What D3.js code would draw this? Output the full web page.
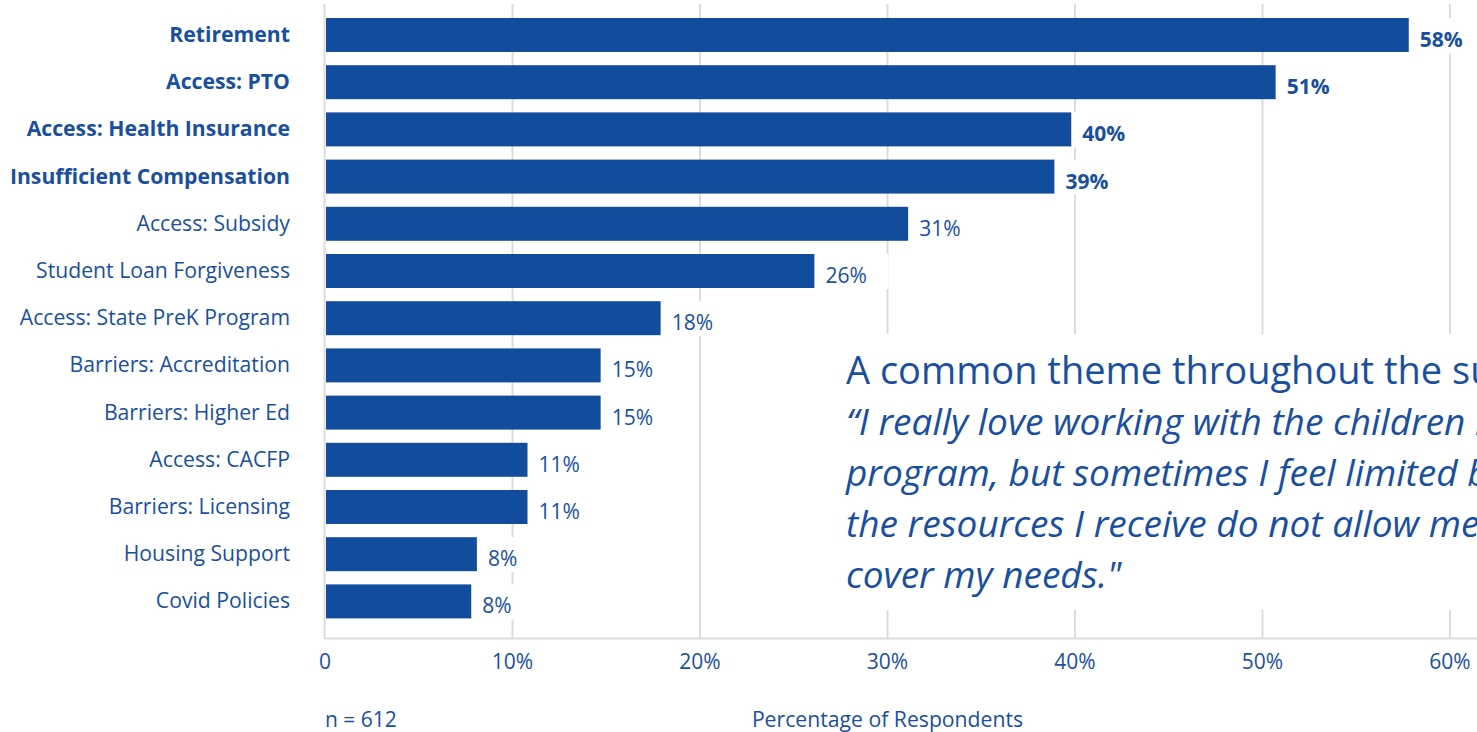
<!DOCTYPE html>
<html>
<head>
<meta charset="utf-8">
<script src="https://cdn.jsdelivr.net/npm/d3@7"></script>
<style>
  body { margin: 0; background: #fff; }
  text { font-family: "Open Sans", sans-serif; fill: #1a4f9e; }
</style>
</head>
<body>
<script>
// categories, top to bottom
categories = ["Retirement", "Access: PTO", "Access: Health Insurance", "Insufficient Compensation",
  "Access: Subsidy", "Student Loan Forgiveness", "Access: State PreK Program", "Barriers: Accreditation",
  "Barriers: Higher Ed", "Access: CACFP", "Barriers: Licensing", "Housing Support", "Covid Policies"];
values = [57.8, 50.7, 39.8, 38.9, 31.1, 26.1, 17.9, 14.7, 14.7, 10.8, 10.8, 8.1, 7.8]; // percent
boldCount = 4; // first four rows are highlighted
ticks = [0, 10, 20, 30, 40, 50, 60];
tickLabels = ["0", "10%", "20%", "30%", "40%", "50%", "60%"];
quoteHead = "A common theme throughout the survey:";
quoteLines = ["\u201CI really love working with the children in my",
  "program, but sometimes I feel limited because",
  "the resources I receive do not allow me to",
  "cover my needs.\""];

Width = 1477;
Height = 732;
var blue = "#124c9c", grid = "#dcdcdc";

var svg = d3.select("body").append("svg")
  .attr("width", Width)
  .attr("height", Height);

var x = d3.scaleLinear().domain([0, 60]).range([325, 1450]);
var y = d3.scaleBand().domain(categories).range([11.4, 625]).paddingInner(0.28).paddingOuter(0.14);

// vertical gridlines
svg.selectAll(".grid").data(ticks.slice(1)).enter().append("line")
  .attr("x1", d => x(d)).attr("x2", d => x(d))
  .attr("y1", 4).attr("y2", 638)
  .attr("stroke", grid).attr("stroke-width", 2);

// baseline and left axis
svg.append("line").attr("x1", 324).attr("x2", Width).attr("y1", 638.5).attr("y2", 638.5)
  .attr("stroke", grid).attr("stroke-width", 2);
svg.append("line").attr("x1", x(0) - 0.5).attr("x2", x(0) - 0.5).attr("y1", 4).attr("y2", 639)
  .attr("stroke", grid).attr("stroke-width", 2);

// bars
svg.selectAll(".bar").data(values).enter().append("rect")
  .attr("x", x(0) + 1)
  .attr("y", (d, i) => y(categories[i]))
  .attr("width", d => x(d) - x(0) - 1)
  .attr("height", y.bandwidth())
  .attr("fill", blue);

// value labels with white backing
var vl = svg.selectAll(".vl").data(values).enter().append("g");
vl.append("rect")
  .attr("x", d => x(d) + 2)
  .attr("y", (d, i) => y(categories[i]) + y.bandwidth() / 2 - 17)
  .attr("width", 72).attr("height", 35)
  .attr("fill", "#fff");
vl.append("text")
  .attr("x", d => x(d) + 11)
  .attr("y", (d, i) => y(categories[i]) + y.bandwidth() / 2 + 12)
  .style("font-size", "21px")
  .style("font-weight", (d, i) => i < boldCount ? "700" : "400")
  .text(d => Math.round(d) + "%");

// category labels
svg.selectAll(".cat").data(categories).enter().append("text")
  .attr("x", 290)
  .attr("y", d => y(d) + y.bandwidth() / 2 + 7)
  .attr("text-anchor", "end")
  .style("font-size", "21.2px")
  .style("font-weight", (d, i) => i < boldCount ? "700" : "400")
  .text(d => d);

// tick labels
svg.selectAll(".tick").data(ticks).enter().append("text")
  .attr("x", d => x(d))
  .attr("y", 669)
  .attr("text-anchor", "middle")
  .style("font-size", "21px")
  .text((d, i) => tickLabels[i]);

svg.append("text").attr("x", 325).attr("y", 727).style("font-size", "21px").text("n = 612");
svg.append("text").attr("x", x(30)).attr("y", 727).attr("text-anchor", "middle")
  .style("font-size", "21.2px").text("Percentage of Respondents");

// quote box
svg.append("rect").attr("x", 810).attr("y", 334).attr("width", Width - 810).attr("height", 276)
  .attr("fill", "#fff");
svg.append("text").attr("x", 846).attr("y", 384).style("font-size", "38px").text(quoteHead);
svg.selectAll(".q").data(quoteLines).enter().append("text")
  .attr("x", 846)
  .attr("y", (d, i) => 435 + i * 51)
  .style("font-size", "37px")
  .style("font-style", "italic")
  .text(d => d);
</script>
</body>
</html>
